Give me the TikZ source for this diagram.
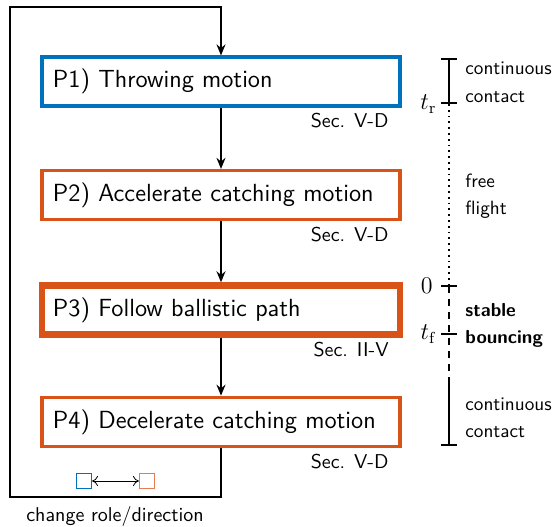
\documentclass[tikz,border=0pt]{standalone}
\usetikzlibrary{arrows.meta}
\definecolor{mblue}{RGB}{0,114,189}
\definecolor{morange}{RGB}{217,83,25}
\begin{document}
\begin{tikzpicture}[x=0.5pt,y=-0.5pt,font=\sffamily,
  box/.style={draw,fill=white,minimum width=179pt,minimum height=24.5pt,text width=168pt,inner xsep=5.5pt,align=left,font=\sffamily\fontsize{12.4}{15}\selectfont},
  arr/.style={line width=0.8pt,-{Stealth[length=5.5pt,width=4.5pt]}},
  sec/.style={anchor=east,inner sep=0pt},
  tl/.style={line width=0.9pt},
  lbl/.style={anchor=west,inner sep=0pt,font=\sffamily\fontsize{9.6}{11}\selectfont},
  tlbl/.style={anchor=east,inner sep=0pt,font=\large}]
\useasboundingbox (0,0) rectangle (554,527);
% boxes
\node[box,draw=mblue,line width=1.6pt] (p1) at (221,81.5) {P1) Throwing motion};
\node[box,draw=morange,line width=1.6pt] (p2) at (221,195) {P2) Accelerate catching motion};
\node[box,draw=morange,line width=3.2pt] (p3) at (221,310) {P3) Follow ballistic path};
\node[box,draw=morange,line width=1.8pt] (p4) at (221,422) {P4) Decelerate catching motion};
% section labels
\node[sec] (s1) at (389,121) {Sec. V-D};
\node[sec] (s2) at (389,235) {Sec. V-D};
\node[sec] (s3) at (389,350) {Sec. II-V};
\node[sec] (s4) at (389,462) {Sec. V-D};
% arrows
\draw[arr] (p1.south) -- (p2.north);
\draw[arr] (p2.south) -- (p3.north);
\draw[arr] (p3.south) -- (p4.north);
\coordinate (c1) at (221,497);
\coordinate (c2) at (10,497);
\coordinate (c3) at (10,7);
\coordinate (c4) at (221,7);
\draw[arr] (p4.south) -- (c1) -- (c2) -- (c3) -- (c4) -- (p1.north);
% role change
\node[draw=mblue,minimum size=7.5pt,inner sep=0pt,line width=0.5pt] (q1) at (84,481) {};
\node[draw=morange!75,minimum size=7.5pt,inner sep=0pt,line width=0.5pt] (q2) at (147,481) {};
\draw[line width=0.4pt,{To[length=3pt,width=5pt]}-{To[length=3pt,width=5pt]}] (q1.east) -- (q2.west);
\node (cr) at (115,516) {change role/direction};
% timeline
\coordinate (T0) at (449,58);
\coordinate (Tr) at (449,104);
\coordinate (Z) at (449,285);
\coordinate (Tf) at (449,334);
\coordinate (S) at (449,382);
\coordinate (B) at (449,446);
\coordinate (TfL) at (441,334);
\coordinate (TfR) at (457,334);
\draw[tl,{Bar[width=8pt]}-{Bar[width=8pt]}] (T0) -- (Tr);
\draw[tl,dotted] (Tr) -- (Z);
\draw[tl,dashed,dash pattern=on 3.5pt off 3pt,{Bar[width=8pt]}-] (Z) -- (S);
\draw[tl] (TfL) -- (TfR);
\draw[tl,-{Bar[width=8pt]}] (S) -- (B);
\node[tlbl] (ltr) at (437,104) {$t_\mathrm{r}$};
\node[tlbl] (l0) at (433,286) {$0$};
\node[tlbl] (ltf) at (437,334) {$t_\mathrm{f}$};
\node[lbl] (a1) at (465,68) {continuous};
\node[lbl] (a2) at (465,97) {contact};
\node[lbl] (b1) at (465,181) {free};
\node[lbl] (b2) at (465,210) {flight};
\node[lbl,font=\sffamily\bfseries\fontsize{9.4}{11}\selectfont] (d1) at (465,310) {stable};
\node[lbl,font=\sffamily\bfseries\fontsize{9.4}{11}\selectfont] (d2) at (465,339) {bouncing};
\node[lbl] (e1) at (465,404) {continuous};
\node[lbl] (e2) at (465,432) {contact};
\end{tikzpicture}
\end{document}
